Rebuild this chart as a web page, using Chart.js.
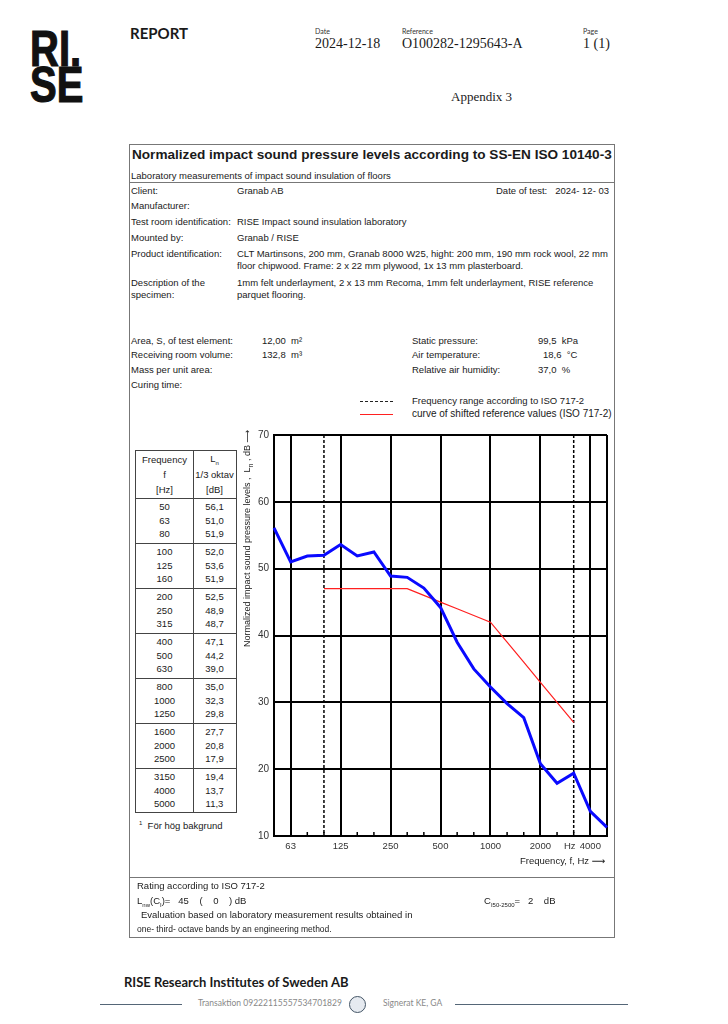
<!DOCTYPE html>
<html>
<head>
<meta charset="utf-8">
<script src="https://cdn.jsdelivr.net/npm/chart.js@4.4.1/dist/chart.umd.min.js"></script>
<style>
  html, body { margin: 0; padding: 0; background: #fff; }
  body { width: 728px; height: 1024px; position: relative; overflow: hidden; font-family: "Liberation Sans", Arial, sans-serif; color: #1a1a1a; }
  .abs { position: absolute; white-space: nowrap; }
  .logo { font-family: "Liberation Sans", sans-serif; font-weight: bold; font-size: 50px; line-height: 36px; letter-spacing: 0px; color: #111; -webkit-text-stroke: 1.2px #111; transform: scaleX(0.8); transform-origin: left top; }
  .cal { font-family: Lato, "Open Sans", sans-serif; }
  .serif { font-family: "Liberation Serif", "Times New Roman", serif; }
  .small { font-size: 7px; font-family: Lato, sans-serif; color: #333; }
  .info { font-size: 9.5px; line-height: 12px; }
  .hline { position: absolute; height: 0; border-top: 1px solid #aaa; }
  #frame { position: absolute; left: 129px; top: 144px; width: 484px; height: 792px; border: 1.5px solid #777; }
  #freqTable { position: absolute; left: 135px; top: 450px; width: 100px; height: 361px; border: 1px solid #444; font-size: 9.5px; }
  .tcell { position: absolute; text-align: center; line-height: 14px; }
  #chartBox { position: absolute; left: 250px; top: 424px; width: 365px; height: 432px; }
</style>
</head>
<body>

<!-- header -->
<div class="abs logo" style="left:30px; top:31px;">RI.<br>SE</div>
<div class="abs cal" style="left:130px; top:24px; font-size:15px; font-weight:bold;">REPORT</div>
<div class="abs small" style="left:315px; top:27px;">Date</div>
<div class="abs serif" style="left:315px; top:36px; font-size:14px;">2024-12-18</div>
<div class="abs small" style="left:402px; top:27px;">Reference</div>
<div class="abs serif" style="left:402px; top:36px; font-size:14px;">O100282-1295643-A</div>
<div class="abs small" style="left:583px; top:27px;">Page</div>
<div class="abs serif" style="left:583px; top:36px; font-size:14px;">1 (1)</div>
<div class="abs serif" style="left:451px; top:89px; font-size:13px;">Appendix 3</div>

<!-- report frame -->
<div id="frame"></div>
<div class="abs" style="left:132px; top:147px; font-size:13.6px; font-weight:bold;">Normalized impact sound pressure levels according to SS-EN ISO 10140-3</div>
<div class="abs info" style="left:131px; top:170px;">Laboratory measurements of impact sound insulation of floors</div>
<div class="hline" style="left:130px; top:182px; width:484px; border-color:#777;"></div>

<div class="abs info" style="left:131px; top:185px;">Client:</div>
<div class="abs info" style="left:237px; top:185px;">Granab AB</div>
<div class="abs info" style="left:496px; top:185px;">Date of test:&nbsp;&nbsp; 2024- 12- 03</div>
<div class="abs info" style="left:131px; top:200px;">Manufacturer:</div>
<div class="abs info" style="left:131px; top:216px;">Test room identification:</div>
<div class="abs info" style="left:237px; top:216px;">RISE Impact sound insulation laboratory</div>
<div class="abs info" style="left:131px; top:232px;">Mounted by:</div>
<div class="abs info" style="left:237px; top:232px;">Granab / RISE</div>
<div class="abs info" style="left:131px; top:248px;">Product identification:</div>
<div class="abs info" style="left:237px; top:248px;">CLT Martinsons, 200 mm, Granab 8000 W25, hight: 200 mm, 190 mm rock wool, 22 mm<br>floor chipwood. Frame: 2 x 22 mm plywood, 1x 13 mm plasterboard.</div>
<div class="abs info" style="left:131px; top:277px;">Description of the<br>specimen:</div>
<div class="abs info" style="left:237px; top:277px;">1mm felt underlayment, 2 x 13 mm Recoma, 1mm felt underlayment, RISE reference<br>parquet flooring.</div>

<div class="abs info" style="left:131px; top:335px;">Area, S, of test element:</div>
<div class="abs info" style="left:262px; top:335px;">12,00&nbsp; m²</div>
<div class="abs info" style="left:131px; top:349px;">Receiving room volume:</div>
<div class="abs info" style="left:262px; top:349px;">132,8&nbsp; m³</div>
<div class="abs info" style="left:131px; top:364px;">Mass per unit area:</div>
<div class="abs info" style="left:131px; top:379px;">Curing time:</div>
<div class="abs info" style="left:412px; top:335px;">Static pressure:</div>
<div class="abs info" style="left:538px; top:335px;">99,5&nbsp; kPa</div>
<div class="abs info" style="left:412px; top:349px;">Air temperature:</div>
<div class="abs info" style="left:543px; top:349px;">18,6&nbsp; °C</div>
<div class="abs info" style="left:412px; top:364px;">Relative air humidity:</div>
<div class="abs info" style="left:538px; top:364px;">37,0&nbsp; %</div>

<!-- legend -->
<div class="hline" style="left:360px; top:401px; width:33px; border-top:1px dashed #222;"></div>
<div class="abs info" style="left:412px; top:395px;">Frequency range according to ISO 717-2</div>
<div class="abs" style="left:360px; top:414px; width:33px; height:1px; background:#ff2020;"></div>
<div class="abs" style="left:412px; top:408px; font-size:10px;">curve of shifted reference values (ISO 717-2)</div>

<!-- table -->
<div id="freqTable"></div>
<div class="abs" style="left:139px; top:820px; font-size:9.5px;"><sup style="font-size:6px;">1</sup>&nbsp; För hög bakgrund</div>

<!-- chart -->
<div id="chartBox"><canvas id="lnChart"></canvas></div>
<div class="abs" style="left:132px; top:526px; width:230px; height:12px; font-size:9px; line-height:12px; transform:rotate(-90deg); transform-origin:center;">Normalized impact sound pressure levels ,&nbsp; L<sub style="font-size:7px;">n</sub> , dB <span style="font-family:'DejaVu Sans';">⟶</span></div>
<div class="abs" style="left:520px; top:855px; font-size:9.5px;">Frequency, f, Hz <span style="font-family:'DejaVu Sans';">⟶</span></div>

<!-- rating -->
<div class="hline" style="left:130px; top:877px; width:484px; border-top:1.5px solid #777;"></div>
<div class="abs info" style="left:137px; top:880px;">Rating according to ISO 717-2</div>
<div class="abs info" style="left:137px; top:895px;">L<sub style="font-size:6px;">nw</sub>(C<sub style="font-size:6px;">I</sub>)=&nbsp;&nbsp; 45&nbsp;&nbsp;&nbsp; (&nbsp;&nbsp;&nbsp; 0&nbsp;&nbsp;&nbsp; ) dB</div>
<div class="abs info" style="left:484px; top:895px;">C<sub style="font-size:6px;">I50-2500</sub>=&nbsp;&nbsp; 2&nbsp;&nbsp;&nbsp; dB</div>
<div class="abs info" style="left:141px; top:909px;">Evaluation based on laboratory measurement results obtained in</div>
<div class="abs" style="left:137px; top:924px; font-size:8.5px;">one- third- octave bands by an engineering method.</div>

<!-- footer -->
<div class="abs cal" style="left:124px; top:974px; font-size:13px; font-weight:bold;">RISE Research Institutes of Sweden AB</div>
<div class="hline" style="left:100px; top:1004px; width:82px; border-top:1.5px solid #556677;"></div>
<div class="abs cal" style="left:198px; top:998px; font-size:8.5px; color:#888;">Transaktion 09222115557534701829</div>
<div class="abs" style="left:349px; top:996px; width:17px; height:17px; border-radius:50%; border:1.5px solid #456; box-sizing:border-box; background:#e6eaf0;"></div>
<div class="abs cal" style="left:383px; top:998px; font-size:8.5px; color:#888;">Signerat KE, GA</div>
<div class="hline" style="left:455px; top:1004px; width:173px; border-top:1.5px solid #556677;"></div>

<script>
// 1/3 octave bands, Hz
const freqLabels = ['50', '63', '80', '100', '125', '160', '200', '250', '315', '400', '500', '630',
    '800', '1000', '1250', '1600', '2000', '2500', '3150', '4000', '5000'];

// measured Ln, dB
const lnValues = [56.1, 51.0, 51.9, 52.0, 53.6, 51.9, 52.5, 48.9, 48.7, 47.1, 44.2, 39.0,
    35.0, 32.3, 29.8, 27.7, 20.8, 17.9, 19.4, 13.7, 11.3];

// shifted reference curve ISO 717-2 (100 - 3150 Hz)
const refValues = [null, null, null, 47, 47, 47, 47, 47, 47, 46, 45, 44,
    43, 42, 39, 36, 33, 30, 27, null, null];

// x-axis labels shown under the octave lines
const xTickLabels = ['', '63', '', '', '125', '', '', '250', '', '', '500', '',
    '', '1000', '', '', '2000', '', 'Hz', '4000', ''];

const gridBands = ['50', '63', '125', '250', '500', '1000', '2000', '4000', '5000'];
const rangeBands = ['100', '3150'];

// Table
const table = document.getElementById('freqTable');
function addCell(text, left, top, width) {
    const d = document.createElement('div');
    d.className = 'tcell';
    d.style.left = left + 'px';
    d.style.top = top + 'px';
    d.style.width = width + 'px';
    d.innerHTML = text;
    table.appendChild(d);
}
const colDiv = 57;
const divider = document.createElement('div');
divider.style.cssText = 'position:absolute;left:' + colDiv + 'px;top:0;bottom:0;border-left:1px solid #444;';
table.appendChild(divider);
addCell('Frequency', 0, 2, colDiv);
addCell('f', 0, 17, colDiv);
addCell('[Hz]', 0, 32, colDiv);
addCell('L<sub style="font-size:6px;">n</sub>', colDiv, 1, 43);
addCell('1/3 oktav', colDiv, 17, 43);
addCell('[dB]', colDiv, 32, 43);
freqLabels.forEach((f, i) => {
    const group = Math.floor(i / 3);
    const top = 47 + group * 45 + (i % 3) * 13.7 + 2;
    if (i % 3 === 0) {
        const line = document.createElement('div');
        line.style.cssText = 'position:absolute;left:0;right:0;top:' + (47 + group * 45) + 'px;border-top:1px solid #444;';
        table.appendChild(line);
    }
    addCell(f, 0, top, colDiv);
    addCell(lnValues[i].toFixed(1).replace('.', ','), colDiv, top, 43);
});

// dashed frequency range lines and small band ticks
const bandMarks = {
    id: 'bandMarks',
    beforeDatasetsDraw(chart) {
        const { ctx, chartArea, scales } = chart;
        ctx.save();
        ctx.strokeStyle = '#000';
        ctx.lineWidth = 1.5;
        ctx.setLineDash([3, 2]);
        rangeBands.forEach(b => {
            const x = scales.x.getPixelForValue(freqLabels.indexOf(b));
            ctx.beginPath();
            ctx.moveTo(x, chartArea.top);
            ctx.lineTo(x, chartArea.bottom);
            ctx.stroke();
        });
        ctx.setLineDash([]);
        freqLabels.forEach((b, i) => {
            if (gridBands.includes(b)) return;
            const x = scales.x.getPixelForValue(i);
            ctx.beginPath();
            ctx.moveTo(x, chartArea.bottom);
            ctx.lineTo(x, chartArea.bottom - 4);
            ctx.stroke();
        });
        ctx.restore();
    }
};

const lnChart = new Chart(document.getElementById('lnChart'), {
    type: 'line',
    data: {
        labels: freqLabels,
        datasets: [{
            label: 'Ln',
            data: lnValues,
            borderColor: '#0a0aff',
            borderWidth: 3,
            pointRadius: 0,
            tension: 0
        }, {
            label: 'Reference',
            data: refValues,
            borderColor: '#ff2020',
            borderWidth: 1.2,
            pointRadius: 0,
            tension: 0,
            spanGaps: false
        }]
    },
    options: {
        responsive: true,
        maintainAspectRatio: false,
        animation: false,
        layout: { padding: { top: 7, right: 8, left: 0, bottom: 0 } },
        plugins: {
            legend: { display: false },
            tooltip: { enabled: false }
        },
        scales: {
            x: {
                offset: false,
                grid: {
                    offset: false,
                    drawTicks: false,
                    color: c => gridBands.includes(freqLabels[c.index]) ? '#000' : 'rgba(0,0,0,0)',
                    lineWidth: 2
                },
                border: { display: true, color: '#000', width: 2 },
                ticks: {
                    autoSkip: false,
                    maxRotation: 0,
                    padding: 5,
                    color: '#333',
                    font: { family: 'Liberation Sans', size: 9.5 },
                    // the "Hz" unit label sits a bit left of its band so it clears 4000
                    callback: (v, i) => xTickLabels[i] === 'Hz' ? 'Hz\u00a0\u00a0\u00a0' : xTickLabels[i]
                },
                afterFit: s => { s.height = 20; }
            },
            y: {
                min: 10,
                max: 70,
                ticks: {
                    stepSize: 10,
                    padding: 5,
                    color: '#333',
                    font: { family: 'Liberation Sans', size: 10 }
                },
                grid: { color: '#000', lineWidth: 2, drawTicks: false },
                border: { display: true, color: '#000', width: 2 },
                afterFit: s => { s.width = 24; }
            }
        }
    },
    plugins: [bandMarks]
});
</script>
</body>
</html>
